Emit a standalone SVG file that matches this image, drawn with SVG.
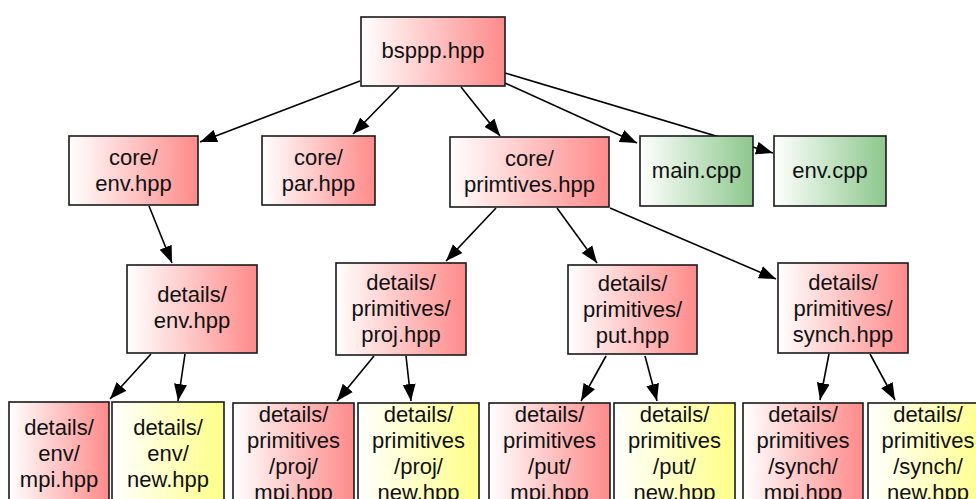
<svg xmlns="http://www.w3.org/2000/svg" width="976" height="499" viewBox="0 0 976 499">
<defs>
<linearGradient id="gr" x1="0" y1="0" x2="1" y2="0"><stop offset="0" stop-color="#ffffff"/><stop offset="1" stop-color="#ff8a8a"/></linearGradient>
<linearGradient id="gg" x1="0" y1="0" x2="1" y2="0"><stop offset="0" stop-color="#ffffff"/><stop offset="1" stop-color="#8cc78c"/></linearGradient>
<linearGradient id="gy" x1="0" y1="0" x2="1" y2="0"><stop offset="0" stop-color="#ffffff"/><stop offset="1" stop-color="#ffff88"/></linearGradient>
<marker id="ah" markerUnits="userSpaceOnUse" markerWidth="18" markerHeight="14" refX="17" refY="7" orient="auto"><path d="M0,0.5 L17,7 L0,13.5 z" fill="#000"/></marker>
</defs>
<style>
.n rect{stroke:#1a1a1a;stroke-width:1.6}
.r rect{fill:url(#gr)}
.g rect{fill:url(#gg)}
.y rect{fill:url(#gy)}
text{font-family:"Liberation Sans",Arial,Helvetica,sans-serif;font-size:22px;fill:#111;text-anchor:middle}
#edges line{stroke:#000;stroke-width:1.6;marker-end:url(#ah)}
</style>
<rect width="976" height="499" fill="#fff"/>
<g id="edges">
<line x1="360" y1="81" x2="200" y2="142"/>
<line x1="399" y1="87" x2="353" y2="134"/>
<line x1="461" y1="87" x2="500" y2="136"/>
<line x1="505" y1="83" x2="637" y2="143"/>
<line x1="505" y1="73" x2="773" y2="153"/>
<line x1="149" y1="206" x2="172" y2="263"/>
<line x1="496" y1="208" x2="446" y2="261"/>
<line x1="557" y1="208" x2="597" y2="263"/>
<line x1="610" y1="208" x2="776" y2="279"/>
<line x1="151" y1="354" x2="110" y2="399"/>
<line x1="185" y1="354" x2="178" y2="401"/>
<line x1="374" y1="356" x2="337" y2="401"/>
<line x1="406" y1="356" x2="411" y2="401"/>
<line x1="606" y1="356" x2="581" y2="401"/>
<line x1="645" y1="356" x2="657" y2="401"/>
<line x1="829" y1="354" x2="820" y2="400"/>
<line x1="870" y1="354" x2="895" y2="400"/>
</g>
<g id="bsppp" class="n r"><rect x="361" y="17" width="144" height="69"/><text x="433" y="58">bsppp.hpp</text></g>
<g id="core_env" class="n r"><rect x="69" y="136" width="129" height="69"/><text x="133.5" y="165">core/</text><text x="133.5" y="191">env.hpp</text></g>
<g id="core_par" class="n r"><rect x="262" y="136" width="113" height="69"/><text x="318.5" y="165">core/</text><text x="318.5" y="191">par.hpp</text></g>
<g id="core_prim" class="n r"><rect x="450" y="137" width="159" height="70"/><text x="529.5" y="166">core/</text><text x="529.5" y="192">primtives.hpp</text></g>
<g id="main_cpp" class="n g"><rect x="640" y="136" width="113" height="70"/><text x="696.5" y="178">main.cpp</text></g>
<g id="env_cpp" class="n g"><rect x="774" y="136" width="112" height="70"/><text x="830" y="178">env.cpp</text></g>
<g id="det_env" class="n r"><rect x="127" y="265" width="130" height="88"/><text x="192" y="302">details/</text><text x="192" y="328">env.hpp</text></g>
<g id="det_proj" class="n r"><rect x="336" y="263" width="130" height="92"/><text x="401" y="290">details/</text><text x="401" y="316">primitives/</text><text x="401" y="342">proj.hpp</text></g>
<g id="det_put" class="n r"><rect x="568" y="265" width="129" height="89"/><text x="632.5" y="291">details/</text><text x="632.5" y="317">primitives/</text><text x="632.5" y="343">put.hpp</text></g>
<g id="det_synch" class="n r"><rect x="778" y="263" width="130" height="90"/><text x="843" y="290">details/</text><text x="843" y="316">primitives/</text><text x="843" y="342">synch.hpp</text></g>
<g id="env_mpi" class="n r"><rect x="9" y="402" width="100" height="110"/><text x="59" y="435">details/</text><text x="59" y="461">env/</text><text x="59" y="487">mpi.hpp</text></g>
<g id="env_new" class="n y"><rect x="112" y="402" width="112" height="110"/><text x="168" y="435">details/</text><text x="168" y="461">env/</text><text x="168" y="487">new.hpp</text></g>
<g id="proj_mpi" class="n r"><rect x="233" y="403" width="121" height="110"/><text x="293.5" y="422">details/</text><text x="293.5" y="448">primitives</text><text x="293.5" y="474">/proj/</text><text x="293.5" y="500">mpi.hpp</text></g>
<g id="proj_new" class="n y"><rect x="358" y="403" width="121" height="110"/><text x="418.5" y="422">details/</text><text x="418.5" y="448">primitives</text><text x="418.5" y="474">/proj/</text><text x="418.5" y="500">new.hpp</text></g>
<g id="put_mpi" class="n r"><rect x="489" y="403" width="121" height="110"/><text x="549.5" y="422">details/</text><text x="549.5" y="448">primitives</text><text x="549.5" y="474">/put/</text><text x="549.5" y="500">mpi.hpp</text></g>
<g id="put_new" class="n y"><rect x="614" y="403" width="121" height="110"/><text x="674.5" y="422">details/</text><text x="674.5" y="448">primitives</text><text x="674.5" y="474">/put/</text><text x="674.5" y="500">new.hpp</text></g>
<g id="synch_mpi" class="n r"><rect x="743" y="403" width="120" height="110"/><text x="803" y="422">details/</text><text x="803" y="448">primitives</text><text x="803" y="474">/synch/</text><text x="803" y="500">mpi.hpp</text></g>
<g id="synch_new" class="n y"><rect x="868" y="403" width="120" height="110"/><text x="928" y="422">details/</text><text x="928" y="448">primitives</text><text x="928" y="474">/synch/</text><text x="928" y="500">new.hpp</text></g>
</svg>
